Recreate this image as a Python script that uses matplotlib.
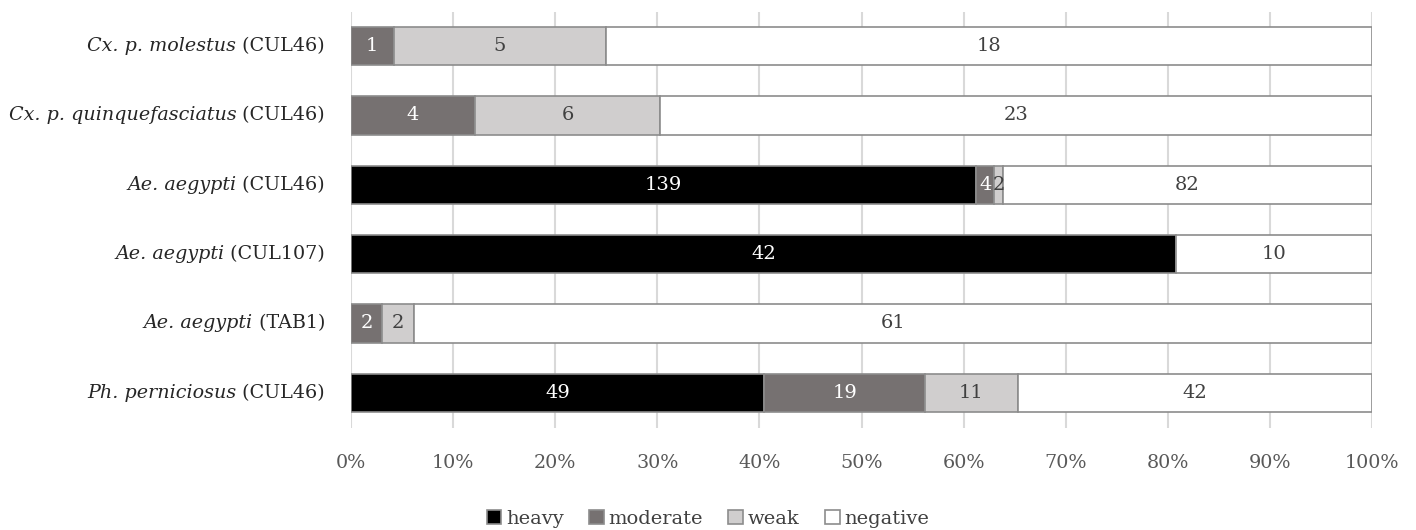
import matplotlib
matplotlib.use("Agg")
import matplotlib.pyplot as plt
import numpy as np

# Infection intensity counts per vector / strain
species = ["Cx. p. molestus", "Cx. p. quinquefasciatus", "Ae. aegypti",
           "Ae. aegypti", "Ae. aegypti", "Ph. perniciosus"]
strains = ["CUL46", "CUL46", "CUL46", "CUL107", "TAB1", "CUL46"]
heavy = [0, 0, 139, 42, 0, 49]
moderate = [1, 4, 4, 0, 2, 19]
weak = [5, 6, 2, 0, 2, 11]
negative = [18, 23, 82, 10, 61, 42]
series_names = ["heavy", "moderate", "weak", "negative"]
x_ticks = [0, 10, 20, 30, 40, 50, 60, 70, 80, 90, 100]

colors = ["#000000", "#767171", "#d0cece", "#ffffff"]
label_colors = ["#ffffff", "#ffffff", "#404040", "#404040"]

plt.rcParams["font.family"] = "DejaVu Serif"

fig = plt.figure(figsize=(14.16, 5.30), dpi=100)
ax = fig.add_axes([351 / 1416, 1 - 427.5 / 530, 1021 / 1416, 416 / 530])

data = np.array([heavy, moderate, weak, negative], dtype=float)
totals = data.sum(axis=0)
pct = data / totals * 100
y = np.arange(len(species))

left = np.zeros(len(species))
for i, name in enumerate(series_names):
    ax.barh(y, pct[i], left=left, height=0.55, color=colors[i],
            edgecolor="#8c8c8c", linewidth=1.2, label=name, zorder=3)
    for j in range(len(species)):
        if data[i, j] > 0:
            ax.text(left[j] + pct[i, j] / 2, y[j], f"{int(data[i, j])}",
                    ha="center", va="center", fontsize=14,
                    color=label_colors[i], zorder=4)
    left += pct[i]

ax.set_xlim(0, 100)
ax.set_ylim(len(species) - 0.5, -0.5)
ax.set_xticks(x_ticks)
ax.set_xticklabels([f"{t}%" for t in x_ticks], fontsize=13.8, color="#595959")
ax.set_yticks(y)
ax.set_yticklabels([])
ax.tick_params(axis="both", length=0)
ax.tick_params(axis="x", pad=19)
ax.grid(axis="x", color="#d9d9d9", linewidth=1.5, zorder=0)
for s in ax.spines.values():
    s.set_visible(False)

# Category labels: italic species name followed by upright strain name
for j in range(len(species)):
    strain_txt = ax.annotate(f" ({strains[j]})", xy=(0, y[j]),
                             xycoords=ax.get_yaxis_transform(),
                             xytext=(-18.7, 0), textcoords="offset points",
                             ha="right", va="center", fontsize=13.8,
                             color="#262626")
    ax.annotate(species[j], xy=(0, 0), xycoords=strain_txt,
                ha="right", va="bottom", fontsize=13.8, fontstyle="italic",
                color="#262626")

handles, labels = ax.get_legend_handles_labels()
leg = fig.legend(handles, labels, loc="center", bbox_to_anchor=(0.5, 1 - 519 / 530),
                 ncol=4, frameon=False, fontsize=14, handlelength=0.75,
                 handleheight=0.75, handletextpad=0.25, columnspacing=1.3,
                 borderpad=0)
for t in leg.get_texts():
    t.set_color("#404040")

fig.savefig("out.png", dpi=100)
